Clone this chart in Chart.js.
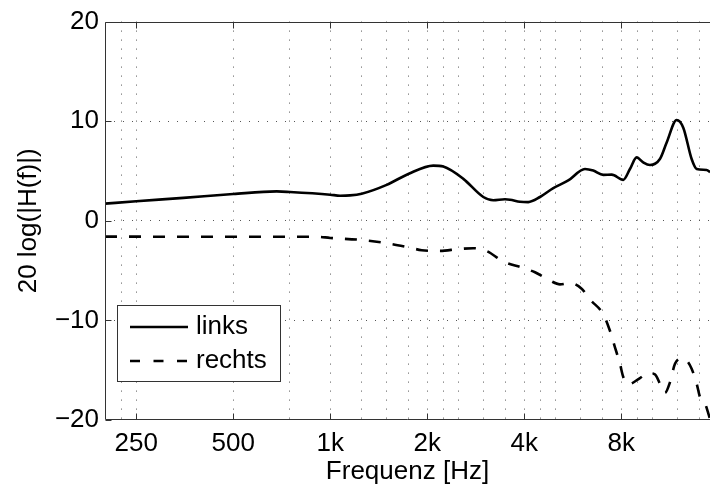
<!DOCTYPE html>
<html>
<head>
<meta charset="utf-8">
<script src="https://cdn.jsdelivr.net/npm/chart.js@4/dist/chart.umd.min.js"></script>
<style>
  html, body { margin: 0; padding: 0; background: #fff; overflow: hidden; }
  #wrap { width: 710px; height: 488px; position: relative; }
</style>
</head>
<body>
<div id="wrap"><canvas id="c"></canvas></div>
<script>
// ---- data ----
const freqLinks = [200, 250, 350, 500, 682, 750, 1000, 1073, 1152, 1252, 1497, 1747, 2089, 2244, 2589, 2986, 3207, 3487, 3613, 3880, 4118, 4478, 4925, 5480, 6175, 6553, 7038, 7474, 8120, 8516, 8932, 9361, 9826, 10550, 11072, 11894, 12466, 13234, 13719, 14733, 15090];
const links     = [1.72, 1.96, 2.3, 2.69, 2.95, 2.89, 2.62, 2.52, 2.55, 2.72, 3.61, 4.7, 5.54, 5.44, 4.21, 2.39, 2.06, 2.16, 2.12, 1.92, 1.88, 2.39, 3.28, 4.05, 5.2, 5.04, 4.61, 4.64, 4.11, 5.2, 6.37, 5.87, 5.6, 6.2, 7.86, 10.12, 9.35, 6.2, 5.2, 5.1, 4.88];

const freqRechts = [200, 500, 908, 1000, 1267, 1532, 1768, 1923, 2192, 2497, 2780, 3059, 3445, 3973, 4320, 4810, 5165, 5548, 6030, 6400, 7038, 7382, 7652, 7930, 8120, 8416, 9148, 9706, 10180, 10550, 10940, 11340, 11750, 12320, 12770, 13234, 13719, 14045, 14560, 14907, 15090];
const rechts     = [-1.59, -1.6, -1.6, -1.72, -1.94, -2.3, -2.7, -2.95, -3.02, -2.84, -2.75, -3.04, -4.08, -4.74, -5.17, -6.0, -6.38, -6.25, -6.82, -7.9, -9.38, -11.04, -12.7, -14.36, -15.69, -16.42, -15.79, -15.29, -15.42, -16.35, -17.28, -16.19, -14.36, -13.8, -14.03, -14.86, -16.35, -17.68, -18.34, -19.33, -19.9];

const seriesNames = ['links', 'rechts'];
const gridX = [225, 250, 500, 750, 1000, 1250, 1500, 1750, 2000, 2250, 2500, 3000, 3500, 4000, 4500, 5000, 6000, 7000, 8000, 9000, 10000, 12000, 14000];
const tickValues = [250, 500, 1000, 2000, 4000, 8000];
const tickLabels = ['250', '500', '1k', '2k', '4k', '8k'];
const yTicks = [-20, -10, 0, 10, 20];
const xTitle = 'Frequenz [Hz]';
const yTitle = '20 log(|H(f)|)';

const FONT = "'Liberation Sans', Arial, Helvetica, sans-serif";
const FS = 26;
const AXC = '#333333';

const toXY = (xs, ys) => xs.map((x, i) => ({ x: x, y: ys[i] }));

const framePlugin = {
  id: 'frame',
  afterDatasetsDraw(chart) {
    const { ctx, chartArea: a, scales } = chart;
    const L = Math.round(a.left) + 0.5, R = a.right, T = Math.round(a.top) + 0.5, B = Math.round(a.bottom) - 0.5;
    ctx.save();
    ctx.strokeStyle = AXC;
    ctx.lineWidth = 1;
    ctx.setLineDash([]);
    ctx.beginPath();
    ctx.moveTo(R, T); ctx.lineTo(L, T); ctx.lineTo(L, B); ctx.lineTo(R, B);
    ctx.stroke();
    const tl = 6;
    ctx.beginPath();
    tickValues.forEach(v => {
      const x = Math.round(scales.x.getPixelForValue(v)) + 0.5;
      ctx.moveTo(x, B); ctx.lineTo(x, B - tl);
      ctx.moveTo(x, T); ctx.lineTo(x, T + tl);
    });
    yTicks.forEach(v => {
      const y = Math.round(scales.y.getPixelForValue(v)) + 0.5;
      ctx.moveTo(L, y); ctx.lineTo(L + tl, y);
    });
    ctx.stroke();
    ctx.restore();
  },
  afterDraw(chart) {
    const { ctx } = chart;
    // legend box
    const bx = 117.5, by = 305.5, bw = 163, bh = 76;
    ctx.save();
    ctx.fillStyle = '#ffffff';
    ctx.fillRect(bx, by, bw, bh);
    ctx.strokeStyle = AXC;
    ctx.lineWidth = 1;
    ctx.setLineDash([]);
    ctx.strokeRect(bx, by, bw, bh);
    const rows = [327, 361];
    chart.data.datasets.forEach((ds, i) => {
      const y = rows[i];
      ctx.strokeStyle = ds.borderColor;
      ctx.lineWidth = ds.borderWidth;
      ctx.setLineDash(i === 1 ? [10, 13.5] : []);
      ctx.beginPath();
      ctx.moveTo(130, y); ctx.lineTo(188, y);
      ctx.stroke();
      ctx.setLineDash([]);
      ctx.fillStyle = '#000';
      ctx.font = FS + 'px ' + FONT;
      ctx.textBaseline = 'middle';
      ctx.textAlign = 'left';
      ctx.fillText(ds.label, 196, y);
    });
    ctx.restore();
  }
};

Chart.defaults.font.family = FONT;
Chart.defaults.color = '#000';

new Chart(document.getElementById('c'), {
  type: 'line',
  data: {
    datasets: [
      { label: seriesNames[0], data: toXY(freqLinks, links), borderColor: '#000', borderWidth: 2.6, pointRadius: 0, cubicInterpolationMode: 'monotone', fill: false },
      { label: seriesNames[1], data: toXY(freqRechts, rechts), borderColor: '#000', borderWidth: 2.6, borderDash: [12, 12], pointRadius: 0, cubicInterpolationMode: 'monotone', fill: false }
    ]
  },
  options: {
    responsive: true,
    maintainAspectRatio: false,
    animation: false,
    events: [],
    layout: { padding: { top: 18, left: 0, right: 0, bottom: 0 } },
    plugins: { legend: { display: false }, tooltip: { enabled: false }, title: { display: false } },
    scales: {
      x: {
        type: 'logarithmic',
        min: 200,
        max: 15090,
        afterBuildTicks(scale) { scale.ticks = gridX.map(v => ({ value: v })); },
        afterFit(scale) { scale.height = 68; },
        ticks: {
          autoSkip: false, maxRotation: 0, minRotation: 0, padding: 8,
          font: { size: FS },
          callback(value) { const i = tickValues.indexOf(value); return i >= 0 ? tickLabels[i] : ''; }
        },
        grid: { color: '#555', lineWidth: 1, drawTicks: false },
        border: { display: false, dash: [1, 8] },
        title: { display: true, text: xTitle, font: { size: FS }, padding: { top: 0, bottom: 1 } }
      },
      y: {
        type: 'linear',
        min: -20,
        max: 20,
        afterBuildTicks(scale) { scale.ticks = yTicks.map(v => ({ value: v })); },
        afterFit(scale) { scale.width = 105; },
        ticks: {
          padding: 6,
          font: { size: FS },
          callback(value) { return String(value).replace('-', '\u2212'); }
        },
        grid: {
          drawTicks: false, lineWidth: 1,
          color(ctx) { return (ctx.tick && Math.abs(ctx.tick.value) === 20) ? 'rgba(0,0,0,0)' : '#555'; }
        },
        border: { display: false, dash: [1, 8] },
        title: { display: true, text: yTitle, font: { size: FS }, padding: { top: 13, bottom: 0 } }
      }
    }
  },
  plugins: [framePlugin]
});
</script>
</body>
</html>
